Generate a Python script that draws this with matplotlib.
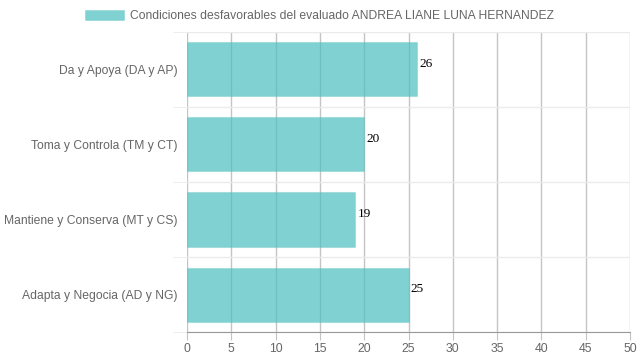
import numpy as np
import matplotlib
matplotlib.use("Agg")
import matplotlib.pyplot as plt

categories = ["Da y Apoya (DA y AP)", "Toma y Controla (TM y CT)",
              "Mantiene y Conserva (MT y CS)", "Adapta y Negocia (AD y NG)"]
values = [26, 20, 19, 25]
series_label = "Condiciones desfavorables del evaluado ANDREA LIANE LUNA HERNANDEZ"
x_ticks = list(range(0, 51, 5))

plt.rcParams['font.family'] = ['Liberation Sans', 'DejaVu Sans']
text_gray = '#666666'

fig = plt.figure(figsize=(6.39, 3.6), dpi=100)
ax = fig.add_axes([187 / 639, 28 / 360, 443 / 639, 300 / 360])

pos = np.arange(len(categories))
ax.barh(pos, values, height=0.72, color=(75 / 255, 192 / 255, 192 / 255, 0.7),
        edgecolor=(75 / 255, 192 / 255, 192 / 255, 0.25), linewidth=0.8,
        label=series_label, zorder=3)

for p, v in zip(pos, values):
    ax.annotate(str(v), (v, p), xytext=(2, 5), textcoords='offset pixels',
                va='center', ha='left', fontsize=9.5, color='black',
                family='Liberation Serif', zorder=4)

ax.set_xlim(0, 50)
ax.set_ylim(len(categories) - 0.5, -0.5)
ax.set_xticks(x_ticks)
ax.set_yticks(pos)
ax.set_yticklabels(categories)
ax.set_yticks(np.arange(-0.5, len(categories)), minor=True)

ax.grid(axis='x', which='major', color='#c4c4c4', linewidth=1, zorder=1)
ax.grid(axis='y', which='minor', color='#ebebeb', linewidth=1, zorder=1)
ax.tick_params(axis='x', length=6, color='#c4c4c4', labelcolor=text_gray,
               labelsize=8.8, pad=2)
ax.tick_params(axis='y', which='major', length=0, labelcolor=text_gray,
               labelsize=8.7, pad=7)
ax.tick_params(axis='y', which='minor', length=10, color='#ebebeb')

for s in ['top', 'right', 'left']:
    ax.spines[s].set_visible(False)
ax.spines['bottom'].set_color('#999999')

fig.legend(loc='upper center', bbox_to_anchor=(0.5, 1.0), frameon=False,
           fontsize=8.7, labelcolor=text_gray, handlelength=3.3,
           handleheight=1.0, handletextpad=0.5, borderaxespad=0.4)

fig.savefig('out.png', dpi=100)
